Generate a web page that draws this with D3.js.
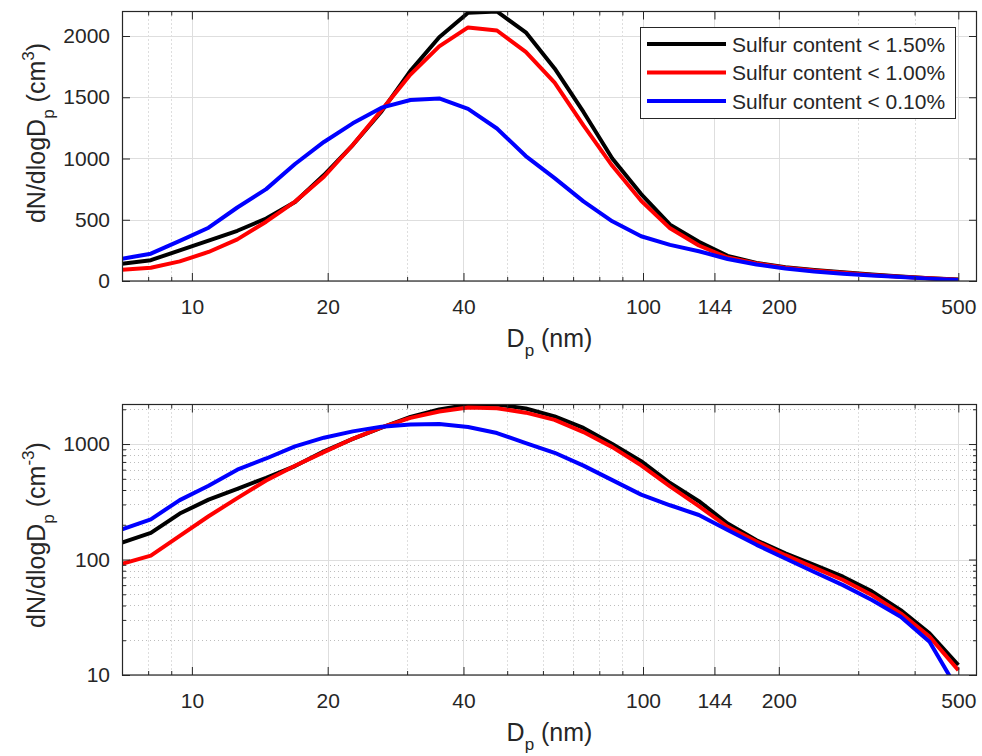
<!DOCTYPE html>
<html>
<head>
<meta charset="utf-8">
<script src="https://cdn.jsdelivr.net/npm/d3@7"></script>
<style>
  html, body { margin: 0; padding: 0; background: #ffffff; }
  svg { display: block; font-family: "Liberation Sans", Arial, Helvetica, sans-serif; }
</style>
</head>
<body>
<svg id="chart" width="982" height="756"></svg>
<script>
// ---------------- data ----------------
const diameters = [7.0, 8.11, 9.40, 10.89, 12.61, 14.61, 16.93, 19.62, 22.73, 26.33,
  30.51, 35.34, 40.95, 47.45, 54.97, 63.69, 73.79, 85.49, 99.05, 114.8,
  133.0, 154.0, 178.5, 206.8, 239.6, 277.5, 321.6, 372.6, 431.6, 500.0];
const sulfur150 = [140, 170, 250, 330, 410, 510, 645, 865, 1110, 1385,
  1715, 1990, 2190, 2200, 2030, 1735, 1380, 1000, 710, 460,
  320, 205, 147, 113, 90, 71, 53, 36.5, 23, 12.2];
const sulfur100 = [92, 108, 160, 237, 340, 484, 648, 851, 1110, 1395,
  1685, 1915, 2070, 2045, 1870, 1620, 1270, 940, 655, 430,
  290, 192, 143, 109, 85, 66.5, 49.3, 34.2, 21.5, 11.0];
const sulfur010 = [182, 223, 327, 435, 600, 750, 955, 1135, 1287, 1415,
  1478, 1490, 1405, 1245, 1020, 840, 650, 487, 365, 295,
  243, 180, 134, 102, 78, 60, 44.6, 32, 19.4, 7.3];
const seriesNames = ["Sulfur content < 1.50%", "Sulfur content < 1.00%", "Sulfur content < 0.10%"];
const seriesColors = ["#000000", "#ff0000", "#0000ff"];
const xTickValues = [10, 20, 40, 100, 144, 200, 500];
const xMinorValues = [8, 9, 30, 50, 60, 70, 80, 90, 300, 400];
const yTicksLinear = [0, 500, 1000, 1500, 2000];
const yTicksLog = [10, 100, 1000];
const yMinorLog = [20, 30, 40, 50, 60, 70, 80, 90, 200, 300, 400, 500, 600, 700, 800, 900, 2000];

const series = [sulfur150, sulfur100, sulfur010];

// ---------------- layout ----------------
const svg = d3.select("#chart");
const TXT = "#262626";
const left = 122, right = 977;
const panels = [
  { top: 11.5, bottom: 281, type: "linear" },
  { top: 404.5, bottom: 675, type: "log" }
];

const x = d3.scaleLog().domain([7, 550]).range([left, right]);

panels.forEach((p, pi) => {
  const y = p.type === "linear"
    ? d3.scaleLinear().domain([0, 2200]).range([p.bottom, p.top])
    : d3.scaleLog().domain([10, 2200]).range([p.bottom, p.top]);
  const g = svg.append("g");

  // grid - minor
  const minorGrid = g.append("g").attr("stroke", "#bdbdbd").attr("stroke-width", 1)
    .attr("stroke-dasharray", "1,3").attr("fill", "none");
  xMinorValues.forEach(v => {
    minorGrid.append("line").attr("x1", Math.round(x(v)) + 0.5).attr("x2", Math.round(x(v)) + 0.5)
      .attr("y1", p.top).attr("y2", p.bottom);
  });
  if (p.type === "log") {
    yMinorLog.forEach(v => {
      minorGrid.append("line").attr("x1", left).attr("x2", right)
        .attr("y1", Math.round(y(v)) + 0.5).attr("y2", Math.round(y(v)) + 0.5);
    });
  }
  // grid - major
  const majorGrid = g.append("g").attr("stroke", "#dedede").attr("stroke-width", 1);
  xTickValues.forEach(v => {
    majorGrid.append("line").attr("x1", Math.round(x(v)) + 0.5).attr("x2", Math.round(x(v)) + 0.5)
      .attr("y1", p.top).attr("y2", p.bottom);
  });
  const yTicks = p.type === "linear" ? yTicksLinear : yTicksLog;
  yTicks.forEach(v => {
    majorGrid.append("line").attr("x1", left).attr("x2", right)
      .attr("y1", Math.round(y(v)) + 0.5).attr("y2", Math.round(y(v)) + 0.5);
  });

  // lines
  const clipId = "clip" + pi;
  svg.append("clipPath").attr("id", clipId).append("rect")
    .attr("x", left).attr("y", p.top).attr("width", right - left).attr("height", p.bottom - p.top);
  const line = d3.line().x((d, i) => x(diameters[i])).y(d => y(d));
  const lg = g.append("g").attr("clip-path", `url(#${clipId})`);
  series.forEach((s, si) => {
    lg.append("path").datum(s).attr("d", line)
      .attr("fill", "none").attr("stroke", seriesColors[si]).attr("stroke-width", 4)
      .attr("stroke-linejoin", "round");
  });

  // axes
  const styleAxis = sel => {
    sel.select(".domain").remove();
    sel.selectAll(".tick line").attr("stroke", TXT);
    sel.selectAll("text").attr("fill", TXT).attr("font-size", 21)
      .attr("font-family", "'Liberation Sans', Arial, sans-serif");
  };
  g.append("g").attr("transform", `translate(0,${p.bottom})`)
    .call(d3.axisBottom(x).tickValues(xTickValues).tickFormat(d3.format("d"))
      .tickSize(-8).tickSizeOuter(0).tickPadding(18)).call(styleAxis);
  g.append("g").attr("transform", `translate(0,${p.top})`)
    .call(d3.axisTop(x).tickValues(xTickValues).tickFormat("")
      .tickSize(-8).tickSizeOuter(0)).call(styleAxis);
  g.append("g").attr("transform", `translate(0,${p.bottom})`)
    .call(d3.axisBottom(x).tickValues(xMinorValues).tickFormat("")
      .tickSize(-4).tickSizeOuter(0)).call(styleAxis);
  g.append("g").attr("transform", `translate(0,${p.top})`)
    .call(d3.axisTop(x).tickValues(xMinorValues).tickFormat("")
      .tickSize(-4).tickSizeOuter(0)).call(styleAxis);
  g.append("g").attr("transform", `translate(${left},0)`)
    .call(d3.axisLeft(y).tickValues(yTicks).tickFormat(d3.format("d"))
      .tickSize(-8).tickSizeOuter(0).tickPadding(12)).call(styleAxis);
  g.append("g").attr("transform", `translate(${right},0)`)
    .call(d3.axisRight(y).tickValues(yTicks).tickFormat("")
      .tickSize(-8).tickSizeOuter(0)).call(styleAxis);
  if (p.type === "log") {
    g.append("g").attr("transform", `translate(${left},0)`)
      .call(d3.axisLeft(y).tickValues(yMinorLog).tickFormat("")
        .tickSize(-4).tickSizeOuter(0)).call(styleAxis);
    g.append("g").attr("transform", `translate(${right},0)`)
      .call(d3.axisRight(y).tickValues(yMinorLog).tickFormat("")
        .tickSize(-4).tickSizeOuter(0)).call(styleAxis);
  }

  // frame
  g.append("rect").attr("x", left + 0.5).attr("y", p.top).attr("width", right - left - 1)
    .attr("height", p.bottom - p.top).attr("fill", "none").attr("stroke", TXT).attr("stroke-width", 1.2);

  // x label
  const xl = g.append("text").attr("x", (left + right) / 2).attr("y", p.bottom + 66)
    .attr("text-anchor", "middle").attr("fill", TXT).attr("font-size", 25);
  xl.append("tspan").text("D");
  xl.append("tspan").attr("font-size", 17).attr("dy", 9).text("p");
  xl.append("tspan").attr("dy", -9).text(" (nm)");

  // y label
  const cy = pi === 0 ? 133 : 535;
  const yl = g.append("text").attr("transform", `translate(45,${cy}) rotate(-90)`)
    .attr("text-anchor", "middle").attr("fill", TXT).attr("font-size", 25);
  yl.append("tspan").text("dN/dlogD");
  yl.append("tspan").attr("font-size", 17).attr("dy", 9).text("p");
  yl.append("tspan").attr("dy", -9).text(" (cm");
  yl.append("tspan").attr("font-size", 17).attr("dy", -11).text(pi === 0 ? "3" : "-3");
  yl.append("tspan").attr("dy", 11).text(")");
});

// legend
const legend = svg.append("g");
legend.append("rect").attr("x", 640.5).attr("y", 27.5).attr("width", 315).attr("height", 91)
  .attr("fill", "#ffffff").attr("stroke", TXT).attr("stroke-width", 1);
const rowY = [44, 72.5, 101];
seriesNames.forEach((name, i) => {
  legend.append("line").attr("x1", 647).attr("x2", 726).attr("y1", rowY[i]).attr("y2", rowY[i])
    .attr("stroke", seriesColors[i]).attr("stroke-width", 4);
  legend.append("text").attr("x", 732).attr("y", rowY[i]).attr("dy", "0.36em")
    .attr("fill", TXT).attr("font-size", 21).text(name);
});
</script>
</body>
</html>
